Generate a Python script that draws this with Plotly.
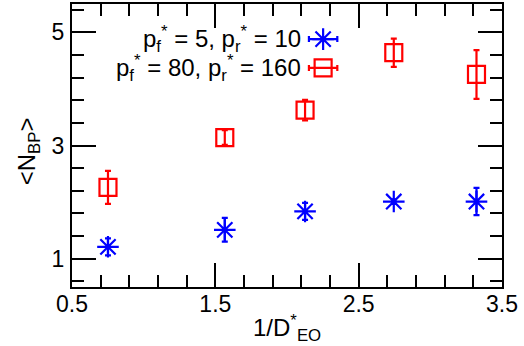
import plotly.graph_objects as go

# data
x_vals = [0.751, 1.566, 2.126, 2.745, 3.322]
blue_y = [1.21, 1.51, 1.835, 2.01, 2.01]
blue_err = [0.15, 0.21, 0.15, 0.04, 0.24]
red_y = [2.26, 3.14, 3.625, 4.64, 4.255]
red_err = [0.29, 0.13, 0.18, 0.25, 0.43]
series_names = ["p<sub>f</sub><sup>*</sup> = 5, p<sub>r</sub><sup>*</sup> = 10",
                "p<sub>f</sub><sup>*</sup> = 80, p<sub>r</sub><sup>*</sup> = 160"]
x_ticks = [0.5, 1.5, 2.5, 3.5]
y_ticks = [1, 3, 5]
x_title = "1/D<sup>*</sup><sub>EO</sub>"
y_title = "&lt;N<sub>BP</sub>&gt;"

BLUE = "#0000ff"
RED = "#ff0000"
FONT = "Liberation Sans, Arial, sans-serif"

fig = go.Figure()

fig.add_trace(go.Scatter(
    x=x_vals, y=blue_y, mode="markers",
    marker=dict(symbol="asterisk-open", size=18, color=BLUE, line=dict(color=BLUE, width=2.2)),
    error_y=dict(type="data", array=blue_err, color=BLUE, thickness=2.2, width=3),
    showlegend=False,
))
fig.add_trace(go.Scatter(
    x=x_vals, y=red_y, mode="markers",
    marker=dict(symbol="square-open", size=17, color=RED, line=dict(color=RED, width=2.2)),
    error_y=dict(type="data", array=red_err, color=RED, thickness=2.2, width=3),
    showlegend=False,
))

# legend keys (drawn on an overlay axis in paper-like units)
leg_x = 0.584
leg_y = [0.876, 0.774]
fig.add_trace(go.Scatter(
    x=[leg_x], y=[leg_y[0]], xaxis="x2", yaxis="y2", mode="markers",
    marker=dict(symbol="asterisk-open", size=18, color=BLUE, line=dict(color=BLUE, width=2.2)),
    error_x=dict(type="data", array=[0.033], color=BLUE, thickness=2.2, width=3),
    showlegend=False, hoverinfo="skip",
))
fig.add_trace(go.Scatter(
    x=[leg_x], y=[leg_y[1]], xaxis="x2", yaxis="y2", mode="markers",
    marker=dict(symbol="square-open", size=17, color=RED, line=dict(color=RED, width=2.2)),
    error_x=dict(type="data", array=[0.033], color=RED, thickness=2.2, width=3),
    showlegend=False, hoverinfo="skip",
))

for name, yy in zip(series_names, leg_y):
    fig.add_annotation(x=0.537, y=yy, xref="paper", yref="paper", text=name,
                       showarrow=False, xanchor="right", yanchor="middle",
                       font=dict(size=24, color="black", family=FONT))

# axis titles as annotations for precise placement
fig.add_annotation(x=0.5, y=-0.145, xref="paper", yref="paper", text=x_title,
                   showarrow=False, xanchor="center", yanchor="middle",
                   font=dict(size=24, color="black", family=FONT))
fig.add_annotation(x=-0.102, y=0.48, xref="paper", yref="paper", text=y_title,
                   showarrow=False, xanchor="center", yanchor="middle", textangle=-90,
                   font=dict(size=24, color="black", family=FONT))

axis_common = dict(
    showline=True, linewidth=2, linecolor="black", mirror="ticks",
    ticks="inside", ticklen=24, tickwidth=1.5, tickcolor="black",
    showgrid=False, zeroline=False, automargin=False,
    tickfont=dict(size=23, color="black", family=FONT),
)

fig.update_layout(
    width=524, height=346,
    margin=dict(l=72, r=22, t=4, b=59),
    paper_bgcolor="white", plot_bgcolor="white",
    font=dict(family=FONT, color="black"),
    xaxis=dict(range=[0.5, 3.5], tickvals=x_ticks, ticktext=[str(v) for v in x_ticks],
               minor=dict(tick0=0.5, dtick=0.2, ticks="inside", ticklen=12, tickwidth=1.5,
                          tickcolor="black", showgrid=False),
               ticklabelstandoff=-5,
               **axis_common),
    yaxis=dict(range=[0.5, 5.5], tickvals=y_ticks, ticktext=[str(v) for v in y_ticks],
               minor=dict(tick0=1, dtick=0.4, ticks="inside", ticklen=12, tickwidth=1.5,
                          tickcolor="black", showgrid=False),
               ticklabelstandoff=1,
               **axis_common),
    xaxis2=dict(range=[0, 1], overlaying="x", visible=False, fixedrange=True),
    yaxis2=dict(range=[0, 1], overlaying="y", visible=False, fixedrange=True),
)

fig.write_html("out.html", config={"displayModeBar": False},
               post_script="document.body.style.margin='0';document.body.style.padding='0';")
